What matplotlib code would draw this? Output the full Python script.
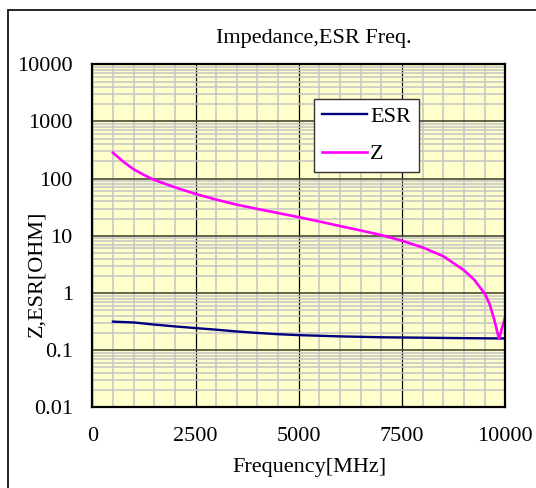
import matplotlib
matplotlib.use("Agg")
import matplotlib.pyplot as plt
from matplotlib.patches import Rectangle
from matplotlib.ticker import FixedLocator, LogLocator, MultipleLocator, NullFormatter

# values
freq_z = [500, 750, 1000, 1250, 1500, 2000, 2500, 3000, 3500, 4000, 4500,
          5000, 5500, 6000, 6500, 7000, 7500, 8000, 8500, 9000, 9250,
          9500, 9620, 9740, 9800, 9850, 9905, 10000]
z_ohm = [284, 198, 146, 116, 95, 70.5, 54, 43, 35, 29.5, 25,
         21.2, 17.8, 14.8, 12.4, 10.3, 8.2, 6.25, 4.4, 2.5, 1.7,
         0.98, 0.65, 0.33, 0.22, 0.157, 0.22, 0.38]

freq_esr = [500, 1000, 1500, 2000, 2500, 3000, 3500, 4000, 4500, 5000,
            6000, 7000, 8000, 9000, 10000]
esr_ohm = [0.315, 0.305, 0.28, 0.26, 0.243, 0.228, 0.212, 0.2, 0.19, 0.183,
           0.174, 0.168, 0.165, 0.162, 0.16]

y_ticks = [0.01, 0.1, 1, 10, 100, 1000, 10000]
y_tick_labels = ["0.01", "0.1", "1", "10", "100", "1000", "10000"]
x_ticks = [0, 2500, 5000, 7500, 10000]

plt.rcParams['font.family'] = ['Liberation Serif', 'DejaVu Serif']
plt.rcParams['font.size'] = 16

fig = plt.figure(figsize=(5.36, 4.88), dpi=100)
fig.patches.append(Rectangle((8 / 536, -0.1), 1.2, 1.1 - 10 / 488,
                             transform=fig.transFigure, fill=False,
                             edgecolor='black', linewidth=1.2))

ax = fig.add_axes([92.3 / 536, 80.7 / 488, 412.9 / 536, 343 / 488])
ax.set_facecolor('#FFFFCC')
ax.set_yscale('log')
ax.set_xlim(0, 10000)
ax.set_ylim(0.01, 10000)

ax.xaxis.set_major_locator(FixedLocator(x_ticks))
ax.xaxis.set_minor_locator(MultipleLocator(500))
ax.yaxis.set_major_locator(FixedLocator(y_ticks))
ax.set_yticklabels(y_tick_labels)
ax.yaxis.set_minor_locator(LogLocator(base=10, subs=range(2, 10), numticks=20))
ax.yaxis.set_minor_formatter(NullFormatter())

ax.set_axisbelow(True)
ax.grid(which='minor', axis='both', color='#c4c4c4', linewidth=1.1)
ax.grid(which='major', axis='x', color='black', linewidth=0.9)
ax.grid(which='major', axis='y', color='#4a4a3a', linewidth=1.2)
ax.tick_params(which='both', length=0)
ax.tick_params(axis='x', pad=14)
ax.tick_params(axis='y', pad=14)
for s in ax.spines.values():
    s.set_linewidth(1.6)

ax.plot(freq_esr, esr_ohm, color='#000080', linewidth=1.7, label='ESR')
ax.plot(freq_z, z_ohm, color='#FF00FF', linewidth=1.9, label='Z')

leg = ax.legend(loc='upper left', bbox_to_anchor=(0.538, 0.899),
                frameon=True, fancybox=False, edgecolor='#333333', framealpha=1,
                handlelength=2.0, handletextpad=0.15, borderpad=0.35,
                labelspacing=0.75, borderaxespad=0)
leg.get_frame().set_linewidth(1.0)

ax.set_xlabel('Frequency[MHz]')
ax.set_ylabel('Z,ESR[OHM]')
ax.xaxis.set_label_coords(0.527, -0.148)
ax.yaxis.set_label_coords(-0.112, 0.389)

fig.text(314 / 536, 1 - 38 / 488, 'Impedance,ESR Freq.', ha='center', va='center')

fig.savefig('out.png', dpi=100)
